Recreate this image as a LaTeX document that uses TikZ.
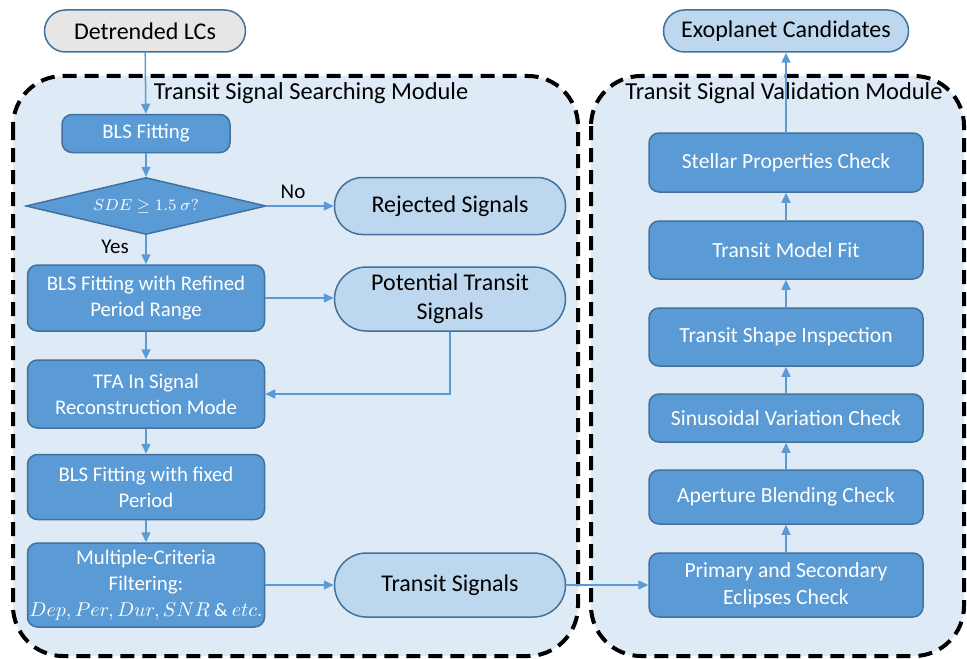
\documentclass[tikz,border=0pt]{standalone}
\usepackage{fontspec}
\setmainfont{Carlito}
\usetikzlibrary{shapes.geometric}
\usetikzlibrary{arrows.meta}

\definecolor{procblue}{HTML}{5B9BD5}
\definecolor{edgeblue}{HTML}{41719C}
\definecolor{pillblue}{HTML}{BDD7EE}
\definecolor{modblue}{HTML}{DEEBF7}
\definecolor{greyin}{HTML}{E7E6E6}

\begin{document}
\begin{tikzpicture}[x=0.5pt, y=-0.5pt,
    proc/.style={rectangle, rounded corners=5pt, fill=procblue, draw=edgeblue, line width=0.75pt,
        text=white, align=center, inner sep=0pt, font=\fontsize{10.4}{13}\selectfont},
    check/.style={proc, minimum width=137pt, font=\fontsize{10.8}{13.3}\selectfont},
    pill/.style={rectangle, rounded corners=#1, fill=pillblue, draw=edgeblue, line width=0.75pt,
        align=center, inner sep=0pt, font=\fontsize{12}{14.5}\selectfont},
    pill/.default=15pt,
    module/.style={fill=modblue, draw=black, line width=2pt, dash pattern=on 7pt off 4pt, rounded corners=25pt},
    flow/.style={draw=procblue, line width=0.75pt, -{Triangle[length=5pt,width=4.5pt]}}]
    \useasboundingbox (0,0) rectangle (967,658);

    % the two modules
    \draw [module] (13,76) rectangle (578,656);
    \draw [module] (591,76) rectangle (964,656);
    \node [font=\fontsize{12.2}{14}\selectfont] (searchtitle) at (311,93) {Transit Signal Searching Module};
    \node [font=\fontsize{12.2}{14}\selectfont] (validtitle) at (784,93) {Transit Signal Validation Module};

    % input and output
    \node [pill=10.5pt, fill=greyin, minimum width=100.5pt, minimum height=21pt] (lcs) at (145,31) {Detrended LCs};
    \node [pill=10.5pt, minimum width=122.5pt, minimum height=21pt] (cands) at (786,31) {Exoplanet Candidates};

    % searching module
    \node [proc, minimum width=84pt, minimum height=19pt] (bls) at (146,133.5) {BLS Fitting};
    \node [diamond, aspect=4.2, fill=procblue, draw=edgeblue, line width=0.75pt, inner sep=0pt, text=white,
        minimum width=120pt, minimum height=28.5pt, font=\fontsize{8.5}{10}\selectfont] (sde) at (146,206) {$SDE \geq 1.5\ \sigma?$};
    \node [pill=14pt, minimum width=115.5pt, minimum height=28.5pt] (rejected) at (450,206) {Rejected Signals};
    \node [proc, minimum width=118.5pt, minimum height=33pt] (refined) at (146,298) {BLS Fitting with Refined\\Period Range};
    \node [pill=16pt, minimum width=115.5pt, minimum height=32pt] (potential) at (450,299) {Potential Transit\\Signals};
    \node [proc, minimum width=118.5pt, minimum height=34pt] (tfa) at (146,394) {TFA In Signal\\Reconstruction Mode};
    \node [proc, minimum width=118.5pt, minimum height=32.5pt] (fixed) at (146,487) {BLS Fitting with fixed\\Period};
    \node [proc, minimum width=118.5pt, minimum height=42pt] (filter) at (146,585) {Multiple-Criteria\\Filtering:\\{\fontsize{9.6}{12}\selectfont$Dep, Per, Dur, SNR$ \& $etc.$}};
    \node [pill=16pt, minimum width=115.5pt, minimum height=32pt] (signals) at (450,585) {Transit Signals};

    % validation module
    \node [check, minimum height=29.5pt] (stellar) at (786,162.5) {Stellar Properties Check};
    \node [check, minimum height=29pt] (model) at (786,250) {Transit Model Fit};
    \node [check, minimum height=29pt] (shape) at (786,337) {Transit Shape Inspection};
    \node [check, minimum height=24pt] (sinus) at (786,418) {Sinusoidal Variation Check};
    \node [check, minimum height=27pt] (blend) at (786,497) {Aperture Blending Check};
    \node [check, minimum height=32pt] (eclipse) at (786,585) {Primary and Secondary\\Eclipses Check};

    % arrows
    \draw [flow] (lcs) -- (bls);
    \draw [flow] (bls) -- (sde);
    \draw [flow] (sde.east) -- (rejected.west);
    \draw (293,192) node [font=\fontsize{10.5}{12}\selectfont] {No};
    \draw [flow] (sde.south) -- (refined.north);
    \draw (115,247) node [font=\fontsize{10.5}{12}\selectfont] {Yes};
    \draw [flow] (refined.east) -- (refined.east -| potential.west);
    \draw [flow] (potential.south) |- (tfa.east);
    \draw [flow] (refined) -- (tfa);
    \draw [flow] (tfa) -- (fixed);
    \draw [flow] (fixed) -- (filter);
    \draw [flow] (filter.east) -- (signals.west);
    \draw [flow] (signals.east) -- (eclipse.west);
    \draw [flow] (eclipse) -- (blend);
    \draw [flow] (blend) -- (sinus);
    \draw [flow] (sinus) -- (shape);
    \draw [flow] (shape) -- (model);
    \draw [flow] (model) -- (stellar);
    \draw [flow] (stellar) -- (cands);
\end{tikzpicture}
\end{document}
